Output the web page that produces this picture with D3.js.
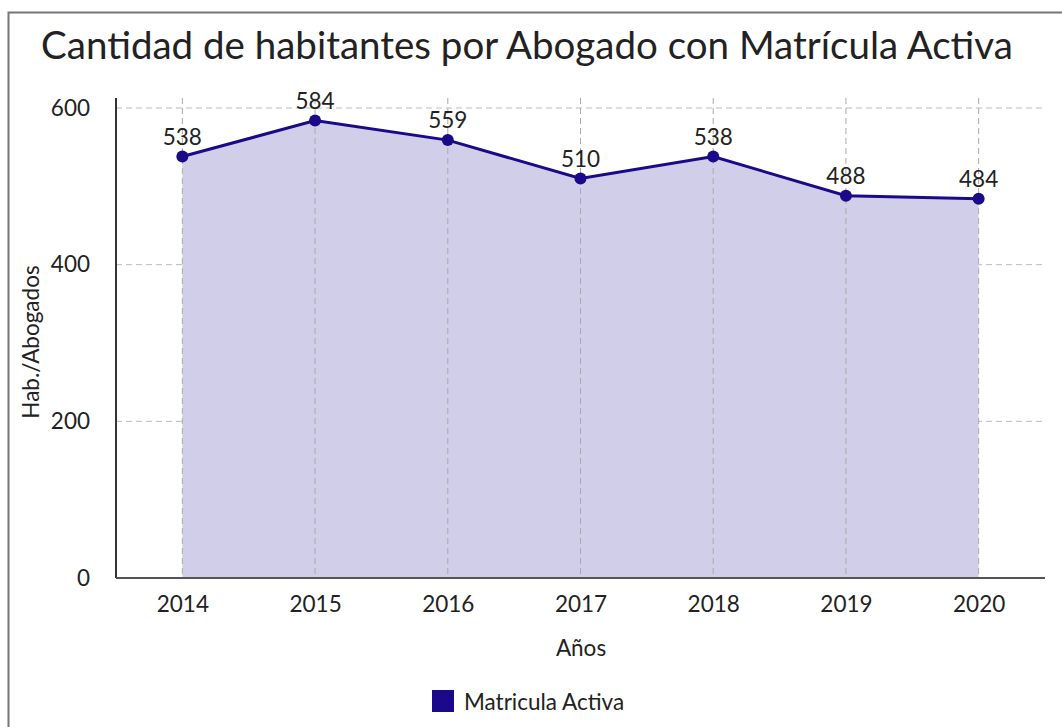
<!DOCTYPE html>
<html>
<head>
<meta charset="utf-8">
<script src="https://cdn.jsdelivr.net/npm/d3@7"></script>
<style>
  body { margin: 0; background: #fff; font-family: Lato, sans-serif; }
  svg text { fill: #222; }
</style>
</head>
<body>
<script>
const years = ['2014', '2015', '2016', '2017', '2018', '2019', '2020'];
const values = [538, 584, 559, 510, 538, 488, 484];
const yTicks = [0, 200, 400, 600];
const title = 'Cantidad de habitantes por Abogado con Matrícula Activa';
const seriesName = 'Matricula Activa';

const width = 1062;
const height = 727;
const margin = { left: 116, right: 17, top: 98, bottom: 149 };
const lineColor = '#1a0a8a';
const fs = '22.5px';

const svg = d3
  .select('body')
  .append('svg')
  .attr('width', width)
  .attr('height', height);

// frame
svg
  .append('rect')
  .attr('x', 8.5)
  .attr('y', 12.5)
  .attr('width', width + 20)
  .attr('height', height + 20)
  .attr('fill', 'none')
  .attr('stroke', '#777')
  .attr('stroke-width', 2);

svg
  .append('text')
  .attr('x', 527)
  .attr('y', 59)
  .attr('text-anchor', 'middle')
  .style('font-size', '38.5px')
  .text(title);

const x = d3
  .scalePoint()
  .domain(years)
  .range([margin.left, width - margin.right])
  .padding(0.5);

const y = d3
  .scaleLinear()
  .domain([0, 600])
  .range([height - margin.bottom, 108]);

const plotBottom = height - margin.bottom;

// grid
const grid = svg.append('g').attr('stroke', '#bbb').attr('stroke-dasharray', '6,4');
grid
  .selectAll('line.h')
  .data(yTicks.filter((d) => d > 0))
  .enter()
  .append('line')
  .attr('x1', margin.left)
  .attr('x2', width - margin.right)
  .attr('y1', (d) => y(d))
  .attr('y2', (d) => y(d));

// area
const data = years.map((yr, i) => ({ year: yr, value: values[i] }));
svg
  .append('path')
  .datum(data)
  .attr('fill', '#d0cee8')
  .attr(
    'd',
    d3
      .area()
      .x((d) => x(d.year))
      .y0(y(0))
      .y1((d) => y(d.value))
  );

svg
  .append('g')
  .attr('stroke', '#aaa')
  .attr('stroke-dasharray', '6,4')
  .selectAll('line')
  .data(years)
  .enter()
  .append('line')
  .attr('x1', (d) => x(d))
  .attr('x2', (d) => x(d))
  .attr('y1', margin.top)
  .attr('y2', plotBottom);

// axes
const yAxis = d3.axisLeft(y).tickValues(yTicks).tickSize(0).tickPadding(26);
const yG = svg
  .append('g')
  .attr('transform', `translate(${margin.left},0)`)
  .call(yAxis);
yG.select('.domain').remove();
yG.selectAll('text').style('font-size', fs).style('font-family', 'Lato');

svg
  .append('line')
  .attr('x1', margin.left)
  .attr('x2', margin.left)
  .attr('y1', margin.top)
  .attr('y2', plotBottom)
  .attr('stroke', '#333')
  .attr('stroke-width', 2);

const xAxis = d3.axisBottom(x).tickSize(0).tickPadding(18);
const xG = svg
  .append('g')
  .attr('transform', `translate(0,${plotBottom})`)
  .call(xAxis);
xG.select('.domain').remove();
xG.selectAll('text').style('font-size', fs).style('font-family', 'Lato');

svg
  .append('line')
  .attr('x1', margin.left)
  .attr('x2', width - margin.right)
  .attr('y1', plotBottom)
  .attr('y2', plotBottom)
  .attr('stroke', '#555')
  .attr('stroke-width', 2);

// line + points
svg
  .append('path')
  .datum(data)
  .attr('fill', 'none')
  .attr('stroke', lineColor)
  .attr('stroke-width', 3)
  .attr(
    'd',
    d3
      .line()
      .x((d) => x(d.year))
      .y((d) => y(d.value))
  );

svg
  .append('g')
  .selectAll('circle')
  .data(data)
  .enter()
  .append('circle')
  .attr('cx', (d) => x(d.year))
  .attr('cy', (d) => y(d.value))
  .attr('r', 6)
  .attr('fill', lineColor);

svg
  .append('g')
  .selectAll('text')
  .data(data)
  .enter()
  .append('text')
  .attr('x', (d) => x(d.year))
  .attr('y', (d) => y(d.value) - 12)
  .attr('text-anchor', 'middle')
  .style('font-size', fs)
  .text((d) => d.value);

// axis titles
svg
  .append('text')
  .attr('x', 581)
  .attr('y', 656)
  .attr('text-anchor', 'middle')
  .style('font-size', fs)
  .text('Años');

svg
  .append('text')
  .attr('transform', `translate(39,${y(300) - 1})rotate(-90)`)
  .attr('text-anchor', 'middle')
  .style('font-size', fs)
  .text('Hab./Abogados');

// legend
const legend = svg.append('g').attr('transform', 'translate(432,690)');
legend.append('rect').attr('width', 22).attr('height', 22).attr('fill', lineColor);
legend
  .append('text')
  .attr('x', 32)
  .attr('y', 20)
  .style('font-size', fs)
  .text(seriesName);
</script>
</body>
</html>
